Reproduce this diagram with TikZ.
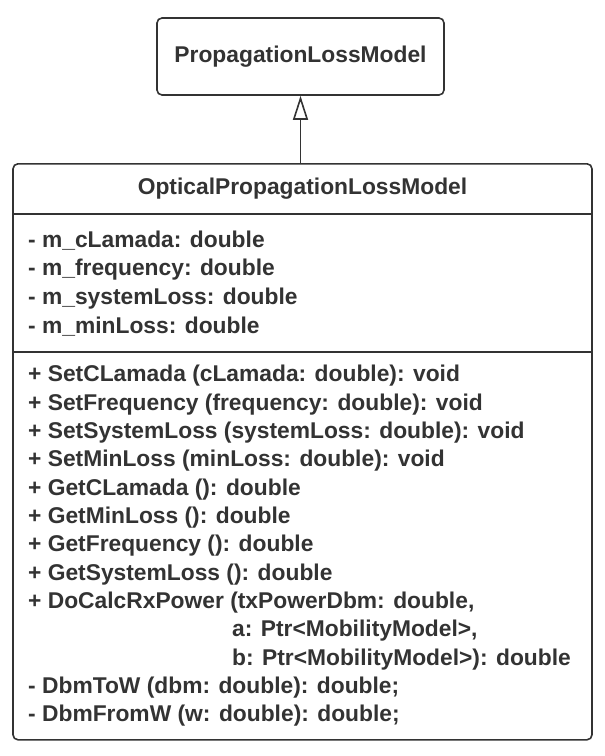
\documentclass[tikz,border=0pt]{standalone}
\usepackage{fontspec}
\setmainfont{Liberation Sans}
\usetikzlibrary{arrows.meta}
\definecolor{umlgray}{HTML}{333333}

\begin{document}
\begin{tikzpicture}[x=1pt,y=-1pt,
  font=\bfseries\fontsize{22.8}{27}\selectfont,
  box/.style={draw=umlgray,line width=1.6pt,rounded corners=5pt,text=umlgray},
  member/.style={anchor=west,inner sep=0pt,text=umlgray}]
\useasboundingbox (0,0) rectangle (605,756);
\node[box,minimum width=287,minimum height=77] (base) at (300.5,56.5) {PropagationLossModel};
\node[box,minimum width=579,minimum height=576,anchor=north] (cls) at (302.5,163) {};
\node[text=umlgray] (name) at (302.5,189) {OpticalPropagationLossModel};
% compartments
\draw[umlgray,line width=1.6pt] (cls.west |- 0,214) -- (cls.east |- 0,214);
\draw[umlgray,line width=1.6pt] (cls.west |- 0,352) -- (cls.east |- 0,352);
% attributes
\foreach \t [count=\i] in {{- m\_cLamada: double},{- m\_frequency: double},
  {- m\_systemLoss: double},{- m\_minLoss: double}}{
  \node[member] (attr\i) at (28,{241+28.6*(\i-1)}) {\t};
}
% operations
\foreach \x/\t [count=\i] in {28/{+ SetCLamada (cLamada: double): void},
  28/{+ SetFrequency (frequency: double): void},
  28/{+ SetSystemLoss (systemLoss: double): void},
  28/{+ SetMinLoss (minLoss: double): void},
  28/{+ GetCLamada (): double},
  28/{+ GetMinLoss (): double},
  28/{+ GetFrequency (): double},
  28/{+ GetSystemLoss (): double},
  28/{+ DoCalcRxPower (txPowerDbm: double,},
  232/{a: Ptr<MobilityModel>,},
  232/{b: Ptr<MobilityModel>): double},
  28/{- DbmToW (dbm: double): double;},
  28/{- DbmFromW (w: double): double;}}{
  \node[member] (op\i) at (\x,{376+28.33*(\i-1)}) {\t};
}
% generalization
\draw[umlgray,line width=1.6pt,-{Triangle[open,length=24pt,width=15pt]}]
  (cls.north -| base.south) -- (base.south);
\end{tikzpicture}
\end{document}
